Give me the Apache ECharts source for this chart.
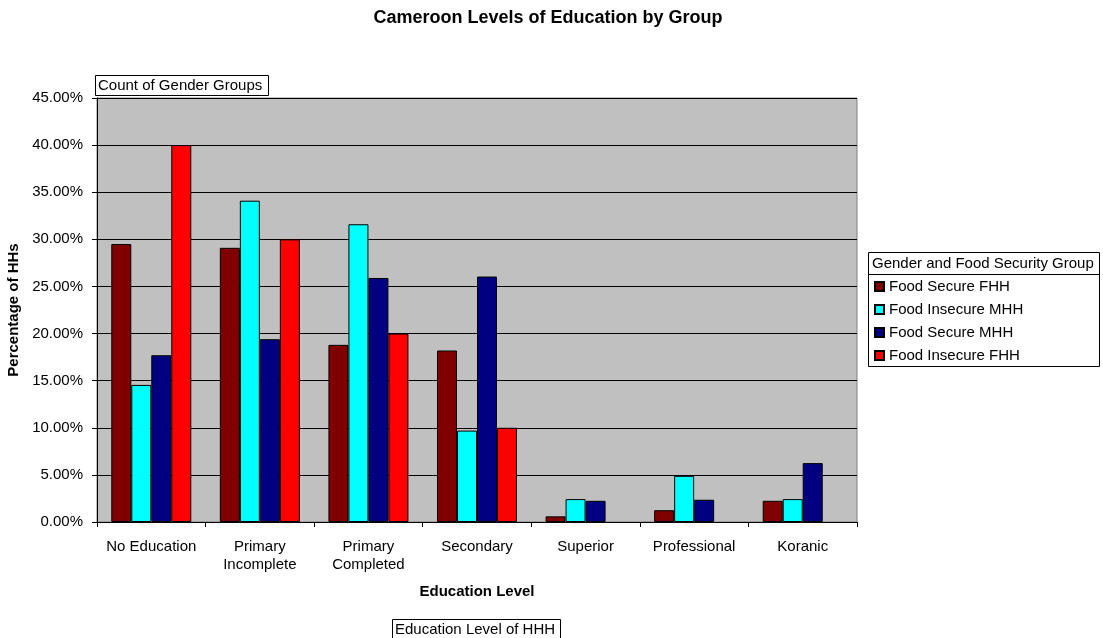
<!DOCTYPE html>
<html>
<head>
<meta charset="utf-8">
<script src="https://cdn.jsdelivr.net/npm/echarts@6/dist/echarts.min.js"></script>
<style>html,body{margin:0;padding:0;background:#fff;}#c{width:1103px;height:638px;}</style>
</head>
<body>
<div id="c"></div>
<script>
const categories = ['No Education', 'Primary\nIncomplete', 'Primary\nCompleted', 'Secondary', 'Superior', 'Professional', 'Koranic'];
const seriesNames = ['Food Secure FHH', 'Food Insecure MHH', 'Food Secure MHH', 'Food Insecure FHH'];
const foodSecureFHH = [29.5, 29.1, 18.8, 18.2, 0.6, 1.25, 2.25];
const foodInsecureMHH = [14.55, 34.1, 31.6, 9.7, 2.43, 4.9, 2.43];
const foodSecureMHH = [17.7, 19.4, 25.9, 26.05, 2.25, 2.36, 6.25];
const foodInsecureFHH = [40.0, 30.0, 20.0, 10.0, null, null, null];
const colors = ['#800000', '#00FFFF', '#000080', '#FF0000'];

const FONT = 'Liberation Sans, Arial, sans-serif';
const chart = echarts.init(document.getElementById('c'));
const values = [foodSecureFHH, foodInsecureMHH, foodSecureMHH, foodInsecureFHH];

chart.setOption({
  animation: false,
  backgroundColor: '#ffffff',
  textStyle: { fontFamily: FONT },
  title: {
    text: 'Cameroon Levels of Education by Group',
    left: 548, textAlign: 'center', top: 9, padding: 0,
    textStyle: { fontFamily: FONT, fontSize: 18, fontWeight: 'bold', color: '#000' }
  },
  grid: {
    left: 97, right: 246, top: 98, bottom: 116, outerBoundsMode: 'none', containLabel: false,
    show: true, backgroundColor: '#C0C0C0', borderColor: '#808080', borderWidth: 1
  },
  legend: {
    orient: 'vertical', left: 874, top: 278, padding: 0,
    itemWidth: 9, itemHeight: 9, itemGap: 6, icon: 'rect',
    data: seriesNames,
    textStyle: { fontFamily: FONT, fontSize: 15, color: '#000', lineHeight: 17 }
  },
  xAxis: {
    type: 'category', data: categories,
    axisLine: { lineStyle: { color: '#000', width: 1 } },
    axisTick: { show: true, length: 5, interval: 0, lineStyle: { color: '#000' } },
    axisLabel: { color: '#000', fontSize: 15, margin: 16, lineHeight: 18, interval: 0, hideOverlap: false, fontFamily: FONT },
    name: 'Education Level', nameLocation: 'middle', nameGap: 62,
    nameTextStyle: { fontFamily: FONT, fontSize: 15, fontWeight: 'bold', color: '#000' }
  },
  yAxis: {
    type: 'value', min: 0, max: 45, interval: 5,
    axisLine: { show: true, lineStyle: { color: '#000', width: 1 } },
    axisTick: { show: true, length: 5, lineStyle: { color: '#000' } },
    axisLabel: { color: '#000', fontSize: 15, margin: 14, fontFamily: FONT,
      formatter: v => v.toFixed(2) + '%' },
    splitLine: { show: true, lineStyle: { color: '#000', width: 1 } },
    name: 'Percentage of HHs', nameLocation: 'middle', nameRotate: 90, nameGap: 67,
    nameTextStyle: { fontFamily: FONT, fontSize: 15, fontWeight: 'bold', color: '#000' }
  },
  series: seriesNames.map((n, i) => ({
    name: n, type: 'bar', data: values[i],
    barWidth: 20, barGap: '0%',
    itemStyle: { color: colors[i], borderColor: '#000', borderWidth: 1 }
  })),
  graphic: [
    { type: 'rect', shape: { x: 95.5, y: 75.5, width: 173, height: 20 },
      style: { fill: '#fff', stroke: '#000', lineWidth: 1 } },
    { type: 'text', x: 98, y: 86, style: { text: 'Count of Gender Groups', font: '15px ' + FONT, fill: '#000', textVerticalAlign: 'middle' } },
    { type: 'rect', shape: { x: 392.5, y: 619.5, width: 168, height: 22 },
      style: { fill: '#fff', stroke: '#000', lineWidth: 1 } },
    { type: 'text', x: 395, y: 630, style: { text: 'Education Level of HHH', font: '15px ' + FONT, fill: '#000', textVerticalAlign: 'middle' } },
    { type: 'rect', z: -1, shape: { x: 868.5, y: 252.5, width: 231, height: 114 },
      style: { fill: '#fff', stroke: '#000', lineWidth: 1 } },
    { type: 'line', shape: { x1: 868.5, y1: 274.5, x2: 1099.5, y2: 274.5 },
      style: { stroke: '#000', lineWidth: 1 } },
    { type: 'text', x: 872, y: 263.5, style: { text: 'Gender and Food Security Group', font: '15px ' + FONT, fill: '#000', textVerticalAlign: 'middle' } }
  ]
});
</script>
</body>
</html>
